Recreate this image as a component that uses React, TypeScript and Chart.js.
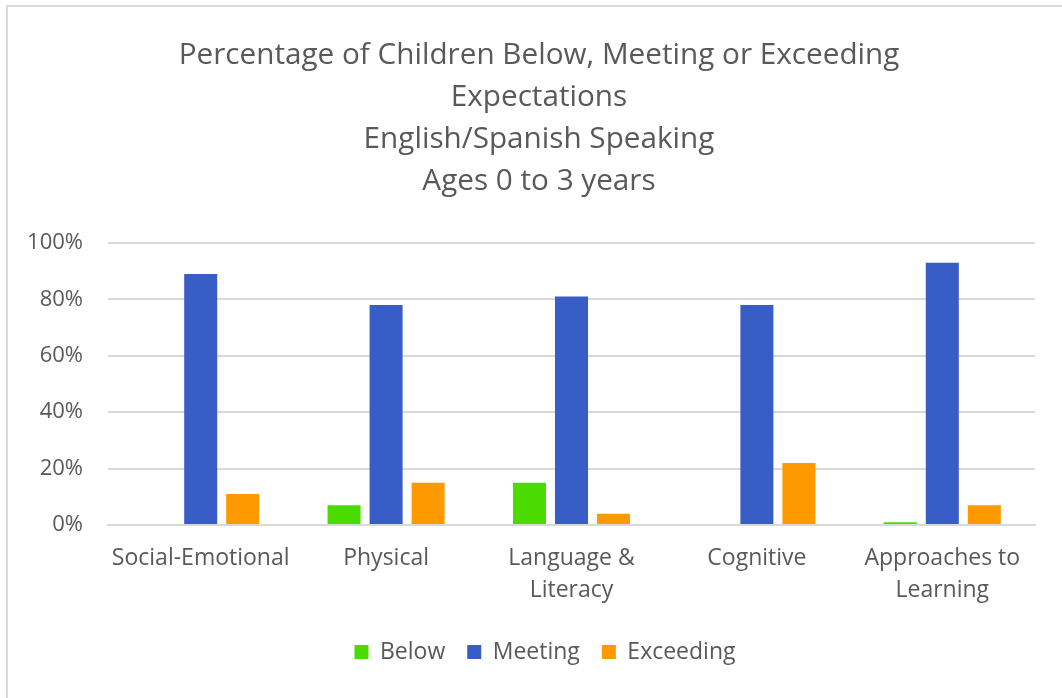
import React, { useEffect, useRef } from "react";
import { Chart, registerables } from "chart.js";

Chart.register(...registerables);

const titleLines = [
  "Percentage of Children Below, Meeting or Exceeding",
  "Expectations",
  "English/Spanish Speaking",
  "Ages 0 to 3 years",
];
const categories = [
  ["Social-Emotional"],
  ["Physical"],
  ["Language &", "Literacy"],
  ["Cognitive"],
  ["Approaches to", "Learning"],
];
const below = [0, 7, 15, 0, 1];
const meeting = [89, 78, 81, 78, 93];
const exceeding = [11, 15, 4, 22, 7];
const yTicks = [0, 20, 40, 60, 80, 100];

const FONT = "'Open Sans'";
const GRAY = "#595959";

// the reference centres its title and legend on a slightly wider chart box
const shiftPlugin = {
  id: "centerShift",
  afterLayout(chart: any) {
    const t = chart.titleBlock;
    if (t) { t.left += 21.5; t.right += 21.5; }
    const l = chart.legend;
    if (l) { l.left += 27.5; l.right += 27.5; }
  },
};

export default function App() {
  const ref = useRef<HTMLCanvasElement | null>(null);
  useEffect(() => {
    if (!ref.current) return;
    const chart = new Chart(ref.current, {
      type: "bar",
      data: {
        labels: categories as any,
        datasets: [
          { label: "Below", data: below, backgroundColor: "#4CDB00", borderWidth: 0 },
          { label: "Meeting", data: meeting, backgroundColor: "#385DC6", borderWidth: 0 },
          { label: "Exceeding", data: exceeding, backgroundColor: "#FF9900", borderWidth: 0 },
        ],
      },
      options: {
        responsive: false,
        animation: false,
        devicePixelRatio: 1,
        layout: { padding: { left: 0, right: 27, top: 0, bottom: 24.5 } },
        datasets: { bar: { categoryPercentage: 0.68, barPercentage: 0.786 } },
        plugins: {
          title: {
            display: true,
            text: titleLines,
            color: GRAY,
            font: { family: FONT, size: 29.7, weight: "normal", lineHeight: 1.414 },
            padding: { top: 35, bottom: 40 },
          },
          legend: {
            position: "bottom",
            labels: {
              color: GRAY,
              font: { family: FONT, size: 23 },
              boxWidth: 14,
              boxHeight: 14,
              padding: 22,
            },
          },
          tooltip: { enabled: false },
        },
        scales: {
          x: {
            grid: { display: false, drawTicks: false },
            border: { display: true, color: "#d9d9d9", width: 2 },
            ticks: {
              color: GRAY,
              font: { family: FONT, size: 23, lineHeight: 1.39 },
              padding: 17,
              maxRotation: 0,
              autoSkip: false,
            },
            afterFit: (s: any) => { s.height = 93.5; },
          },
          y: {
            min: 0,
            max: 100,
            afterBuildTicks: (s: any) => { s.ticks = yTicks.map((v) => ({ value: v })); },
            grid: { color: "#d9d9d9", lineWidth: 2, drawTicks: false },
            border: { display: false },
            ticks: {
              color: GRAY,
              font: { family: FONT, size: 22 },
              padding: 25,
              callback: (v: any) => v + "%",
            },
            afterFit: (s: any) => { s.width = 108; },
          },
        },
      },
      plugins: [shiftPlugin],
    });
    return () => chart.destroy();
  }, []);
  return (
    <div style={{ position: "fixed", left: 0, top: 0, width: 1062, height: 698, overflow: "hidden", background: "#fff" }}>
      <div style={{ position: "absolute", left: 6, top: 5, width: 1100, height: 720, border: "2px solid #d9d9d9", boxSizing: "border-box" }} />
      <canvas ref={ref} width={1062} height={698} style={{ position: "absolute", left: 0, top: 0, width: 1062, height: 698 }} />
    </div>
  );
}
